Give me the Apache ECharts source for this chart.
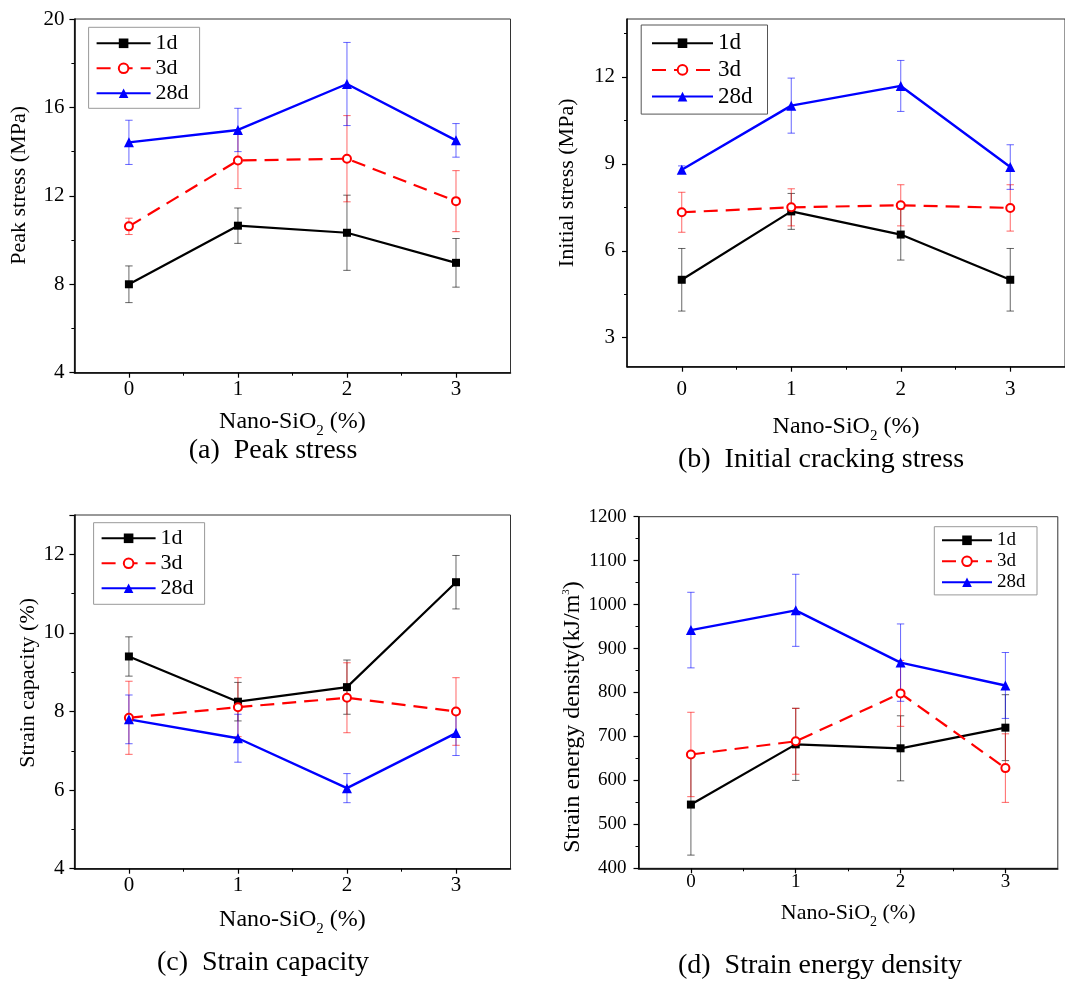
<!DOCTYPE html>
<html>
<head>
<meta charset="utf-8">
<script src="https://cdn.jsdelivr.net/npm/echarts@6/dist/echarts.min.js"></script>
<style>html,body{margin:0;padding:0;background:#fff}#c{width:1065px;height:984px}</style>
</head>
<body>
<div id="c"></div>
<script>
// ---------------- DATA ----------------
const nanoSiO2 = [0, 1, 2, 3];
const seriesNames = ['1d', '3d', '28d'];
const xTickValues = [0, 1, 2, 3];
const initialStressTicks = [3, 6, 9, 12];

// (a) Peak stress (MPa)
const peak1d = [8.0, 10.65, 10.33, 8.97];
const peak1dErr = [0.83, 0.8, 1.7, 1.1];
const peak3d = [10.62, 13.6, 13.68, 11.76];
const peak3dErr = [0.37, 1.27, 1.95, 1.38];
const peak28d = [14.42, 14.98, 17.06, 14.51];
const peak28dErr = [1.0, 0.98, 1.88, 0.76];

// (b) Initial cracking stress (MPa)
const init1d = [5.0, 7.36, 6.56, 5.0];
const init1dErr = [1.08, 0.62, 0.88, 1.08];
const init3d = [7.33, 7.5, 7.57, 7.48];
const init3dErr = [0.69, 0.64, 0.71, 0.8];
const init28d = [8.8, 11.01, 11.69, 8.89];
const init28dErr = [0.13, 0.95, 0.88, 0.77];

// (c) Strain capacity (%)
const strain1d = [9.4, 8.25, 8.62, 11.29];
const strain1dErr = [0.5, 0.49, 0.69, 0.68];
const strain3d = [7.84, 8.11, 8.35, 8.0];
const strain3dErr = [0.93, 0.75, 0.89, 0.86];
const strain28d = [7.8, 7.32, 6.05, 7.45];
const strain28dErr = [0.62, 0.61, 0.37, 0.57];

// (d) Strain energy density (kJ/m3)
const energy1d = [545, 682, 673, 720];
const energy1dErr = [115, 82, 74, 75];
const energy3d = [659, 689, 798, 628];
const energy3dErr = [96, 75, 75, 78];
const energy28d = [942, 987, 868, 816];
const energy28dErr = [86, 82, 88, 75];

// ---------------- STYLE / LAYOUT ----------------
const FONT = "'Liberation Serif','Times New Roman',serif";
const COLORS = {'1d': '#000000', '3d': '#ff0000', '28d': '#0000ff'};
const SERIES_STYLE = {
  '1d': {symbol: 'rect', size: 8, type: 'solid', width: 2.2},
  '3d': {symbol: 'emptyCircle', size: 8, type: [14, 8], width: 2.2},
  '28d': {symbol: 'triangle', size: 10, type: 'solid', width: 2.4}
};

const panels = [
  {
    grid: {left: 74.4, top: 19, width: 436.1, height: 353.7},
    ymin: 4, ymax: 20, yInterval: 4, hideMaxLabel: false,
    yName: '{a|Peak stress (MPa)}', yNameGap: 44, yNamePad: [0, 0, 0, 21], yNameFont: 22,
    yLabelMargin: 10, xLabelMargin: 6, tickFont: 21, xNameGap: 32, xNameFont: 24,
    values: [peak1d, peak3d, peak28d], errors: [peak1dErr, peak3dErr, peak28dErr],
    legend: {left: 88.6, top: 27.3, itemWidth: 54, fontSize: 22, lineHeight: 20, itemGap: 3, padding: [5, 11, 4, 7], borderColor: '#999'},
    caption: {text: '(a)  Peak stress', x: 273, y: 451}
  },
  {
    grid: {left: 627, top: 19, width: 444.6, height: 347.7},
    ymin: 2, ymax: 14, yTicks: initialStressTicks, yMinor: [4.5, 7.5, 10.5, 13.5],
    yName: '{a|Initial stress (MPa)}', yNameGap: 48.5, yNamePad: [0, 0, 0, 20], yNameFont: 22,
    yLabelMargin: 12, xLabelMargin: 12, tickFont: 21, xNameGap: 43, xNameFont: 24,
    values: [init1d, init3d, init28d], errors: [init1dErr, init3dErr, init28dErr],
    legend: {left: 641.2, top: 25, itemWidth: 61, fontSize: 23, lineHeight: 22, itemGap: 3.7, padding: [6.7, 15, 6, 9.8], borderColor: '#555'},
    caption: {text: '(b)  Initial cracking stress', x: 821, y: 460}
  },
  {
    grid: {left: 74.4, top: 515, width: 436.1, height: 353.7},
    ymin: 4, ymax: 13, yInterval: 2, hideMaxLabel: true,
    yName: '{a|Strain capacity (%)}', yNameGap: 34.7, yNamePad: [0, 0, 0, 18], yNameFont: 22,
    yLabelMargin: 10, xLabelMargin: 6, tickFont: 21, xNameGap: 34, xNameFont: 24,
    values: [strain1d, strain3d, strain28d], errors: [strain1dErr, strain3dErr, strain28dErr],
    legend: {left: 93.6, top: 522.7, itemWidth: 54, fontSize: 22, lineHeight: 20, itemGap: 3, padding: [4.6, 11, 5, 7], borderColor: '#999'},
    caption: {text: '(c)  Strain capacity', x: 263, y: 963}
  },
  {
    grid: {left: 638.5, top: 516.7, width: 419.3, height: 351.6},
    ymin: 400, ymax: 1200, yInterval: 100, hideMaxLabel: false,
    yName: '{a|Strain energy density(kJ/m}{sup|3}{a|)}', yNameGap: 54, yNamePad: [0, 49, 0, 0], yNameFont: 24,
    yLabelMargin: 12, xLabelMargin: 4, tickFont: 19, xNameGap: 29, xNameFont: 22,
    values: [energy1d, energy3d, energy28d], errors: [energy1dErr, energy3dErr, energy28dErr],
    legend: {left: 934.3, top: 526.7, itemWidth: 50, fontSize: 19, lineHeight: 17, itemGap: 2, padding: [4.1, 11.5, 3.1, 6.7], borderColor: '#999'},
    caption: {text: '(d)  Strain energy density', x: 820, y: 966}
  }
];

// ---------------- BUILD ----------------
function errRender(color) {
  return function (params, api) {
    const x = api.value(0), lo = api.value(1), hi = api.value(2);
    const a = api.coord([x, lo]), b = api.coord([x, hi]);
    const w = 3.7;
    const st = {stroke: color, lineWidth: 1, opacity: 0.6};
    return {type: 'group', children: [
      {type: 'line', shape: {x1: a[0], y1: a[1], x2: b[0], y2: b[1]}, style: st},
      {type: 'line', shape: {x1: a[0] - w, y1: a[1], x2: a[0] + w, y2: a[1]}, style: st},
      {type: 'line', shape: {x1: b[0] - w, y1: b[1], x2: b[0] + w, y2: b[1]}, style: st}
    ]};
  };
}

const grids = [], xAxes = [], yAxes = [], series = [], legends = [], graphics = [];

panels.forEach(function (p, gi) {
  grids.push(Object.assign({show: true, borderColor: '#333', borderWidth: 1, backgroundColor: 'transparent'}, p.grid));

  const subSize = Math.round(p.xNameFont * 0.62);
  const xi = xAxes.length;
  xAxes.push({
    type: 'value', gridIndex: gi, min: -0.5, max: 3.5, position: 'bottom',
    axisLine: {show: true, onZero: false, lineStyle: {color: '#000', width: 1.5}},
    axisTick: {show: true, length: 5, customValues: xTickValues, lineStyle: {color: '#000', width: 1.2}},
    axisLabel: {customValues: xTickValues, margin: p.xLabelMargin, fontSize: p.tickFont, fontFamily: FONT, color: '#000'},
    splitLine: {show: false},
    name: '{a|Nano-SiO}{s|2}{a| (%)}', nameLocation: 'middle', nameGap: p.xNameGap,
    nameTextStyle: {
      rich: {
        a: {fontSize: p.xNameFont, fontFamily: FONT, color: '#000', lineHeight: p.xNameFont + 10},
        s: {fontSize: subSize, fontFamily: FONT, color: '#000', verticalAlign: 'bottom', lineHeight: subSize}
      }
    }
  });
  xAxes.push({
    type: 'value', gridIndex: gi, min: -0.5, max: 3.5, position: 'bottom',
    axisLine: {show: false, onZero: false},
    axisTick: {show: true, length: 3, customValues: [0.5, 1.5, 2.5], lineStyle: {color: '#000', width: 1}},
    axisLabel: {show: false}, splitLine: {show: false}
  });

  const yi = yAxes.length;
  const y = {
    type: 'value', gridIndex: gi, min: p.ymin, max: p.ymax, position: 'left',
    axisLine: {show: true, onZero: false, lineStyle: {color: '#000', width: 1.5}},
    axisTick: {show: true, length: 5, lineStyle: {color: '#000', width: 1.2}},
    axisLabel: {margin: p.yLabelMargin, fontSize: p.tickFont, fontFamily: FONT, color: '#000',
                showMaxLabel: !p.hideMaxLabel, formatter: function (v) { return String(v); }},
    splitLine: {show: false},
    name: p.yName, nameLocation: 'middle', nameGap: p.yNameGap, nameRotate: 90, nameMoveOverlap: false,
    nameTextStyle: {
      padding: p.yNamePad,
      rich: {
        a: {fontSize: p.yNameFont, fontFamily: FONT, color: '#000', lineHeight: p.yNameFont},
        sup: {fontSize: 11, fontFamily: FONT, color: '#000', verticalAlign: 'top', lineHeight: 11}
      }
    }
  };
  if (p.yInterval) {
    y.interval = p.yInterval;
    y.minorTick = {show: true, splitNumber: 2, length: 3, lineStyle: {color: '#000', width: 1}};
  } else {
    y.axisTick.customValues = p.yTicks;
    y.axisLabel.customValues = p.yTicks;
  }
  yAxes.push(y);
  if (p.yMinor) {
    yAxes.push({
      type: 'value', gridIndex: gi, min: p.ymin, max: p.ymax, position: 'left',
      axisLine: {show: false, onZero: false},
      axisTick: {show: true, length: 3, customValues: p.yMinor, lineStyle: {color: '#000', width: 1}},
      axisLabel: {show: false}, splitLine: {show: false}
    });
  }

  seriesNames.forEach(function (name, si) {
    const vals = p.values[si], errs = p.errors[si];
    const c = COLORS[name], s = SERIES_STYLE[name];
    series.push({
      type: 'custom', name: name + ' error', xAxisIndex: xi, yAxisIndex: yi, z: 1, silent: true,
      data: nanoSiO2.map(function (x, i) { return [x, vals[i] - errs[i], vals[i] + errs[i]]; }),
      encode: {x: 0, y: [1, 2]},
      renderItem: errRender(c)
    });
    series.push({
      type: 'line', name: name, xAxisIndex: xi, yAxisIndex: yi, z: 3,
      data: nanoSiO2.map(function (x, i) { return [x, vals[i]]; }),
      symbol: s.symbol, symbolSize: s.size, showSymbol: true,
      lineStyle: {color: c, width: s.width, type: s.type},
      itemStyle: {color: c, borderColor: c, borderWidth: s.symbol === 'emptyCircle' ? 1 : 0}
    });
  });

  const L = p.legend;
  legends.push({
    data: seriesNames, orient: 'vertical', left: L.left, top: L.top,
    itemWidth: L.itemWidth, itemHeight: 12, itemGap: L.itemGap, padding: L.padding,
    borderColor: L.borderColor, borderWidth: 1, backgroundColor: '#fff', selectedMode: false,
    textStyle: {fontSize: L.fontSize, fontFamily: FONT, color: '#000', lineHeight: L.lineHeight}
  });

  graphics.push({
    type: 'text', x: p.caption.x, y: p.caption.y,
    style: {text: p.caption.text, fontSize: 28, fontFamily: FONT, fill: '#000',
            align: 'center', verticalAlign: 'middle', textAlign: 'center', textVerticalAlign: 'middle'}
  });
});

const chart = echarts.init(document.getElementById('c'), null, {renderer: 'canvas'});
chart.setOption({
  backgroundColor: '#fff',
  animation: false,
  grid: grids, xAxis: xAxes, yAxis: yAxes, series: series, legend: legends, graphic: graphics
});
</script>
</body>
</html>
